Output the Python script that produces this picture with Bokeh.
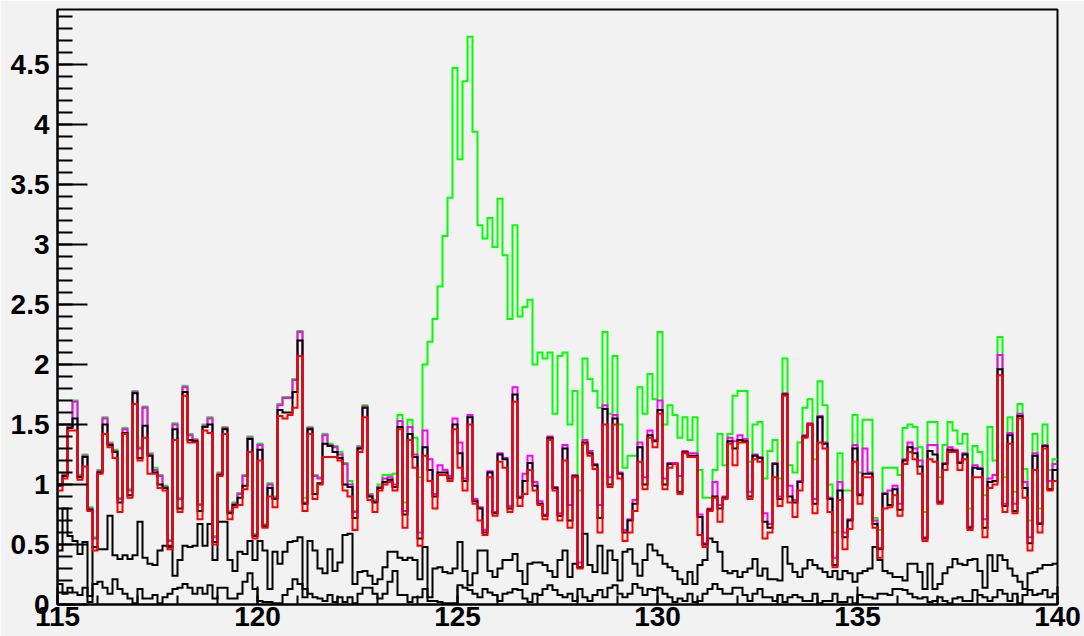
from bokeh.plotting import figure
from bokeh.models import Range1d, SingleIntervalTicker, CustomJSTickFormatter
from bokeh.embed import file_html
from bokeh.resources import INLINE

# Binning: 200 bins between 115 and 140
x_min, x_max, n_bins = 115.0, 140.0, 200

# Stacked sums (bottom layer first): red < black < magenta < green
red = [
    .95, 1.05, 1.45, 1.45, 1.04, 1.15, .78, .45, 1.09, 1.42,
    1.31, 1.22, .77, 1.42, .89, 1.67, 1.2, 1.39, 1.09, 1.09,
    .97, .95, .46, 1.37, .77, 1.74, 1.35, 1.35, .71, 1.45,
    1.43, .5, 1.07, 1.42, .71, .81, .83, .96, 1.27, .55,
    1.2, .64, .9, .81, 1.57, 1.55, 1.58, 1.64, 2.07, .78,
    1.42, .88, 1.0, 1.23, 1.23, 1.23, 1.2, .95, .9, .62,
    1.27, 1.56, .87, .77, .95, 1.0, 1.02, .95, 1.46, .64,
    1.37, 1.14, .49, 1.24, 1.03, .8, 1.08, 1.08, 1.03, 1.46,
    1.14, .95, 1.5, .84, .7, .58, 1.06, .74, 1.19, 1.14,
    .77, 1.69, .82, .92, 1.12, .95, .83, .71, 1.37, .95,
    .7, 1.2, .64, 1.06, .3, 1.34, 1.24, 1.13, .6, 1.5,
    .98, 1.5, 1.05, .53, .6, .78, 1.19, .96, 1.39, 1.31,
    1.59, .96, 1.14, 1.17, .92, 1.26, 1.23, 1.23, .58, .48,
    .78, .89, .69, .88, 1.34, 1.16, 1.35, 1.35, .88, 1.21,
    1.19, .55, .6, 1.06, .82, 1.74, .85, .73, .95, 1.39,
    1.5, .76, 1.35, 1.3, .77, .31, .87, .46, .63, 1.19,
    .84, 1.06, 1.06, .64, .39, .8, .81, .91, .74, 1.17,
    1.27, 1.21, 1.09, .53, 1.21, 1.19, .84, 1.12, 1.27, 1.27,
    1.12, 1.21, .62, 1.06, 1.06, .56, .97, 1.0, 1.91, .77,
    1.34, .76, 1.55, .89, .45, 1.12, .6, 1.3, .95, 1.03,
]

black = [
    .99, 1.07, 1.47, 1.55, 1.06, 1.23, .79, .48, 1.1, 1.5,
    1.33, 1.27, .85, 1.43, .91, 1.76, 1.22, 1.49, 1.24, 1.1,
    1.0, .97, .49, 1.46, .8, 1.77, 1.37, 1.36, .78, 1.48,
    1.5, .52, 1.08, 1.46, .76, .83, .89, .99, 1.38, .57,
    1.29, .65, .97, .88, 1.62, 1.6, 1.6, 1.77, 2.2, .84,
    1.46, .92, 1.01, 1.34, 1.32, 1.27, 1.22, 1.0, .98, .72,
    1.3, 1.64, .9, .85, .97, 1.02, 1.04, .98, 1.48, .75,
    1.42, 1.23, .55, 1.31, 1.12, .9, 1.1, 1.1, 1.05, 1.5,
    1.26, 1.03, 1.56, .86, .8, .6, 1.1, .76, 1.25, 1.21,
    .8, 1.75, .89, 1.03, 1.18, .99, .84, .74, 1.39, .97,
    .74, 1.3, .7, 1.07, .31, 1.35, 1.26, 1.16, .72, 1.63,
    1.0, 1.55, 1.09, .6, .7, .84, 1.31, 1.0, 1.41, 1.36,
    1.62, 1.0, 1.17, 1.17, .94, 1.27, 1.24, 1.24, .73, .5,
    .79, .9, .8, .89, 1.36, 1.3, 1.37, 1.36, .9, 1.24,
    1.22, .69, .64, 1.17, .88, 1.75, .9, .85, 1.02, 1.4,
    1.5, .84, 1.56, 1.34, .88, .33, .95, .56, .7, 1.3,
    .91, 1.09, 1.09, .67, .46, .92, .83, .96, .79, 1.2,
    1.31, 1.26, 1.15, .55, 1.28, 1.25, .85, 1.17, 1.29, 1.28,
    1.18, 1.25, .64, 1.14, 1.13, .64, 1.02, 1.03, 1.96, .82,
    1.41, .78, 1.57, .97, .51, 1.24, .67, 1.32, .96, 1.12,
]

magenta = [
    1.0, 1.08, 1.48, 1.69, 1.07, 1.24, .8, .55, 1.11, 1.55,
    1.34, 1.28, .88, 1.46, .95, 1.77, 1.3, 1.64, 1.25, 1.12,
    1.07, .98, .53, 1.5, .88, 1.81, 1.41, 1.37, .83, 1.49,
    1.55, .56, 1.09, 1.47, .77, .84, .92, 1.07, 1.39, .58,
    1.33, .66, 1.0, .89, 1.66, 1.72, 1.72, 1.87, 2.27, .85,
    1.47, 1.07, 1.05, 1.41, 1.33, 1.31, 1.25, 1.17, 1.0, .77,
    1.31, 1.65, .91, .86, .98, 1.05, 1.06, 1.0, 1.53, .78,
    1.48, 1.25, .6, 1.45, 1.21, .92, 1.16, 1.12, 1.07, 1.55,
    1.35, 1.05, 1.58, .88, .81, .62, 1.11, .77, 1.26, 1.22,
    .82, 1.81, .9, 1.09, 1.24, 1.02, .86, .75, 1.4, .98,
    .76, 1.33, .83, 1.08, .35, 1.37, 1.28, 1.17, .83, 1.66,
    1.06, 1.58, 1.1, .62, .71, .87, 1.35, 1.06, 1.45, 1.37,
    1.7, 1.05, 1.18, 1.18, 1.07, 1.28, 1.26, 1.26, .75, .51,
    .8, 1.02, .83, .9, 1.39, 1.36, 1.41, 1.38, .94, 1.25,
    1.23, .76, .67, 1.18, .9, 1.76, .99, .87, 1.03, 1.41,
    1.51, .88, 1.57, 1.35, .89, .39, 1.02, .6, .71, 1.33,
    .92, 1.3, 1.1, .7, .47, .93, .95, .99, .84, 1.21,
    1.35, 1.3, 1.2, .56, 1.33, 1.33, .86, 1.18, 1.31, 1.29,
    1.19, 1.26, .65, 1.16, 1.14, .71, 1.05, 1.08, 2.08, .84,
    1.43, .84, 1.59, 1.02, .56, 1.26, .68, 1.33, 1.03, 1.17,
]

green = [
    1.0, 1.09, 1.49, 1.7, 1.08, 1.25, .81, .56, 1.12, 1.56,
    1.35, 1.29, .89, 1.47, .96, 1.78, 1.31, 1.65, 1.26, 1.14,
    1.08, .99, .54, 1.51, .89, 1.82, 1.42, 1.38, .84, 1.5,
    1.56, .57, 1.1, 1.48, .78, .85, .93, 1.08, 1.4, .59,
    1.34, .67, 1.01, .9, 1.67, 1.73, 1.73, 1.88, 2.28, .89,
    1.48, 1.08, 1.06, 1.42, 1.34, 1.32, 1.27, 1.18, 1.03, .78,
    1.32, 1.66, .92, .87, 1.0, 1.08, 1.08, 1.09, 1.58, .85,
    1.54, 1.39, 1.06, 2.0, 2.19, 2.38, 2.65, 3.07, 3.39, 4.47,
    3.71, 4.36, 4.73, 3.94, 3.16, 3.05, 3.22, 2.98, 3.38, 2.91,
    2.38, 3.16, 2.4, 2.48, 2.54, 2.0, 2.1, 2.05, 2.1, 1.59,
    2.07, 2.1, 1.5, 1.78, .95, 2.05, 1.88, 1.78, 1.64, 2.27,
    1.59, 2.07, 1.5, 1.14, 1.24, 1.24, 1.81, 1.59, 1.92, 1.71,
    2.27, 1.5, 1.66, 1.58, 1.39, 1.56, 1.37, 1.56, 1.12, .89,
    .89, 1.12, 1.42, 1.16, 1.42, 1.74, 1.78, 1.78, 1.19, 1.5,
    1.52, 1.05, 1.28, 1.37, 1.05, 2.05, 1.16, 1.1, 1.35, 1.64,
    1.71, 1.21, 1.86, 1.66, 1.0, .6, 1.26, .95, .95, 1.58,
    1.1, 1.54, 1.54, .72, .62, 1.14, 1.14, 1.14, 1.08, 1.47,
    1.5, 1.48, 1.31, .77, 1.52, 1.52, 1.06, 1.33, 1.52, 1.45,
    1.34, 1.42, .8, 1.32, 1.27, .91, 1.48, 1.2, 2.23, 1.06,
    1.56, .94, 1.67, 1.13, .7, 1.42, .8, 1.5, 1.12, 1.21,
]

# Two individual (unstacked) components drawn in black
comp_a = [
    .45, .8, .57, .53, .42, .52, .02, .48, .46, .46,
    .74, .41, .38, .41, .38, .41, .69, .39, .34, .33,
    .45, .49, .48, .24, .37, .49, .48, .49, .67, .49,
    .67, .37, .69, .69, .37, .28, .44, .42, .53, .37,
    .53, .45, .13, .44, .34, .44, .52, .53, .56, .06,
    .53, .45, .3, .26, .46, .28, .35, .58, .59, .17,
    .27, .28, .24, .17, .21, .31, .44, .44, .39, .37,
    .39, .37, .21, .48, .06, .3, .31, .27, .26, .3,
    .52, .28, .16, .26, .45, .45, .28, .23, .3, .37,
    .37, .42, .28, .17, .34, .35, .35, .33, .28, .23,
    .37, .45, .23, .34, .31, .59, .33, .27, .49, .26,
    .45, .37, .2, .44, .46, .34, .24, .37, .5, .45,
    .41, .34, .31, .28, .21, .17, .27, .17, .33, .37,
    .55, .52, .44, .28, .26, .28, .23, .27, .3, .38,
    .24, .3, .21, .21, .2, .48, .34, .27, .23, .3,
    .37, .33, .3, .27, .23, .28, .21, .28, .26, .19,
    .26, .28, .3, .48, .37, .28, .26, .23, .23, .2,
    .34, .34, .27, .13, .34, .13, .17, .26, .31, .38,
    .34, .33, .37, .38, .28, .14, .41, .28, .41, .37,
    .3, .24, .19, .13, .26, .27, .3, .33, .33, .34,
]

comp_b = [
    .17, .09, .14, .1, .08, .14, .07, .17, .19, .14,
    .09, .21, .13, .09, .05, .01, .13, .05, .05, .08,
    .01, .06, .09, .13, .14, .17, .14, .09, .14, .09,
    .16, .05, .14, .14, .05, .05, .09, .19, .26, .13,
    .03, .02, .02, .01, .01, .08, .13, .21, .17, .13,
    .09, .06, .05, .03, .08, .02, .06, .02, .06, .01,
    .09, .14, .14, .09, .05, .09, .19, .28, .08, .08,
    .02, .06, .06, .13, .03, .03, .02, .01, .01, .01,
    .16, .14, .12, .09, .06, .13, .1, .08, .03, .09,
    .1, .13, .12, .05, .02, .09, .08, .13, .16, .12,
    .08, .06, .09, .03, .13, .06, .03, .08, .12, .06,
    .14, .16, .09, .06, .09, .17, .14, .08, .13, .12,
    .14, .09, .06, .02, .05, .03, .09, .02, .03, .09,
    .13, .17, .13, .09, .09, .14, .14, .08, .03, .09,
    .13, .06, .06, .03, .08, .02, .06, .08, .06, .03,
    .03, .09, .01, .03, .03, .09, .02, .02, .06, .01,
    .08, .06, .06, .05, .09, .09, .08, .13, .13, .12,
    .09, .06, .05, .06, .02, .03, .06, .03, .01, .05,
    .06, .03, .03, .12, .08, .06, .03, .06, .12, .09,
    .03, .09, .01, .08, .12, .08, .09, .12, .06, .09,
]

edges = [x_min + (x_max - x_min) * i / n_bins for i in range(n_bins + 1)]


def outline(vals):
    """Histogram outline: flat top over each bin, vertical jumps at edges."""
    xs, ys = [], []
    for i, v in enumerate(vals):
        xs += [edges[i], edges[i + 1]]
        ys += [v, v]
    return xs, ys


bg = "#f2f2f2"
p = figure(width=1084, height=636,
           x_range=Range1d(x_min, x_max), y_range=Range1d(0, 4.958),
           output_backend="svg", toolbar_location=None,
           min_border_left=57, min_border_right=27,
           min_border_top=9, min_border_bottom=32,
           background_fill_color=bg, border_fill_color=bg)
p.xgrid.visible = False
p.ygrid.visible = False
p.outline_line_color = "black"
p.outline_line_width = 2

line_kw = dict(line_width=2, line_join="miter")
for vals in (comp_b, comp_a):
    xs, ys = outline(vals)
    p.line(xs, ys, line_color="black", **line_kw)
for vals, col in ((green, "#00ff00"), (magenta, "#ff00ff"),
                  (black, "black"), (red, "#ff0000")):
    xs, ys = outline(vals)
    p.line(xs, ys, line_color=col, **line_kw)

label_font = dict(major_label_text_font="Liberation Sans",
                  major_label_text_font_style="bold",
                  major_label_text_font_size="28px",
                  major_label_text_color="black")

xa = p.xaxis[0]
xa.ticker = SingleIntervalTicker(interval=5, num_minor_ticks=5)
xa.major_tick_in = 18
xa.major_tick_out = 0
xa.minor_tick_in = 9
xa.minor_tick_out = 0
xa.axis_line_width = 2
xa.major_tick_line_width = 2
xa.minor_tick_line_width = 2
xa.major_label_standoff = 2
for k, v in label_font.items():
    setattr(xa, k, v)

ya = p.yaxis[0]
ya.ticker = SingleIntervalTicker(interval=0.5, num_minor_ticks=5)
ya.formatter = CustomJSTickFormatter(code="return String(Math.round(tick * 10) / 10);")
ya.major_tick_in = 30
ya.major_tick_out = 0
ya.minor_tick_in = 15
ya.minor_tick_out = 0
ya.axis_line_width = 2
ya.major_tick_line_width = 2
ya.minor_tick_line_width = 2
ya.major_label_standoff = 8
for k, v in label_font.items():
    setattr(ya, k, v)

open("out.html", "w").write(file_html(p, INLINE))
